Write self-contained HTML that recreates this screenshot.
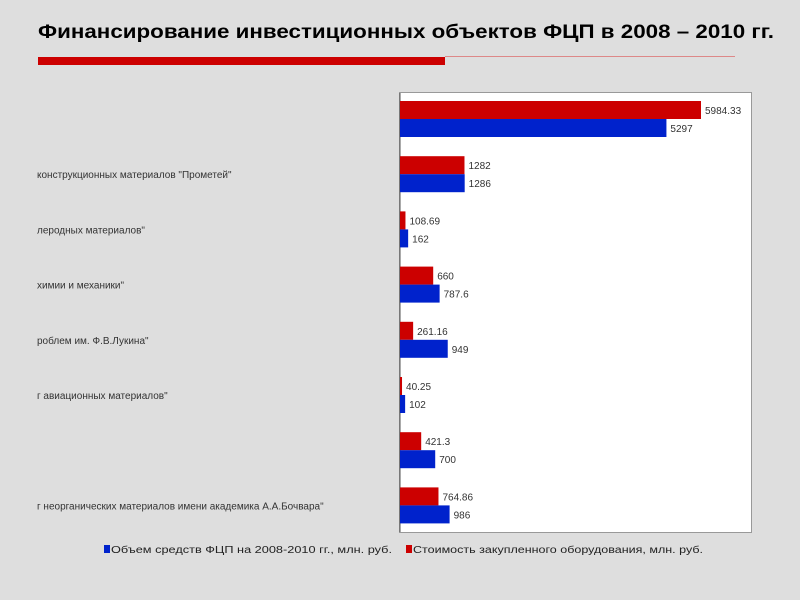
<!DOCTYPE html>
<html><head><meta charset="utf-8"><style>
body{margin:0;background:#dedede;}
svg{display:block;font-family:"Liberation Sans","DejaVu Sans",sans-serif;}
</style></head><body>
<svg id="chart" width="800" height="600">
<rect x="0" y="0" width="800" height="600" fill="#dedede"/>
<text x="38" y="38" font-size="19" font-weight="bold" fill="#000" textLength="736" lengthAdjust="spacingAndGlyphs">Финансирование инвестиционных объектов  ФЦП в 2008 – 2010 гг.</text>
<rect x="38" y="57" width="407" height="8" fill="#cc0000"/>
<rect x="445" y="56" width="290" height="1" fill="#d88"/>
<rect x="399.5" y="92.5" width="352" height="440" fill="#fff" stroke="#999"/>
<line x1="400" y1="93" x2="400" y2="532" stroke="#555"/>
<g id="bars"></g>
<g id="labels" font-size="10" fill="#333"></g>
<g font-size="10" fill="#222">
<rect x="104" y="545" width="6" height="8" fill="#0022cc"/>
<text x="111" y="553" textLength="281" lengthAdjust="spacingAndGlyphs">Объем средств ФЦП на 2008-2010 гг., млн. руб.</text>
<rect x="406" y="545" width="6" height="8" fill="#cc0000"/>
<text x="413" y="553" textLength="290" lengthAdjust="spacingAndGlyphs">Стоимость закупленного оборудования, млн. руб.</text>
</g>
</svg>
<script>
const categories=["","конструкционных материалов \"Прометей\"","леродных материалов\"","химии и механики\"","роблем им. Ф.В.Лукина\"","г авиационных материалов\"","","г неорганических материалов имени академика А.А.Бочвара\""];
const equipmentValues=[5984.33,1282,108.69,660,261.16,40.25,421.3,764.86];
const equipmentLabels=["5984.33","1282","108.69","660","261.16","40.25","421.3","764.86"];
const volumeValues=[5297,1286,162,787.6,949,102,700,986];
const volumeLabels=["5297","1286","162","787.6","949","102","700","986"];
const NS="http://www.w3.org/2000/svg";
const x0=400, pxPerUnit=301/5984.33;
const xScale=v=>x0+v*pxPerUnit;
const groupTop=i=>101+i*55.2;
const bars=document.getElementById('bars'), labels=document.getElementById('labels');
function mk(tag,attrs,parent){const e=document.createElementNS(NS,tag);for(const k in attrs)e.setAttribute(k,attrs[k]);parent.appendChild(e);return e;}
categories.forEach((c,i)=>{
  const y=groupTop(i);
  const r=mk('rect',{x:x0,y:y,width:xScale(equipmentValues[i])-x0,height:18,fill:'#cc0000'},bars);
  
  
  const b=mk('rect',{x:x0,y:y+18,width:xScale(volumeValues[i])-x0,height:18,fill:'#0022cc'},bars);
  
  
  const t1=mk('text',{x:xScale(equipmentValues[i])+4,y:y+13},labels);
  t1.textContent=equipmentLabels[i];
  
  
  const t2=mk('text',{x:xScale(volumeValues[i])+4,y:y+31},labels);
  t2.textContent=volumeLabels[i];
  
  
  if(c){
    const cl=mk('text',{x:37,y:y+22},labels);
    cl.textContent=c;
    
    
  }
});
</script>
</body></html>
